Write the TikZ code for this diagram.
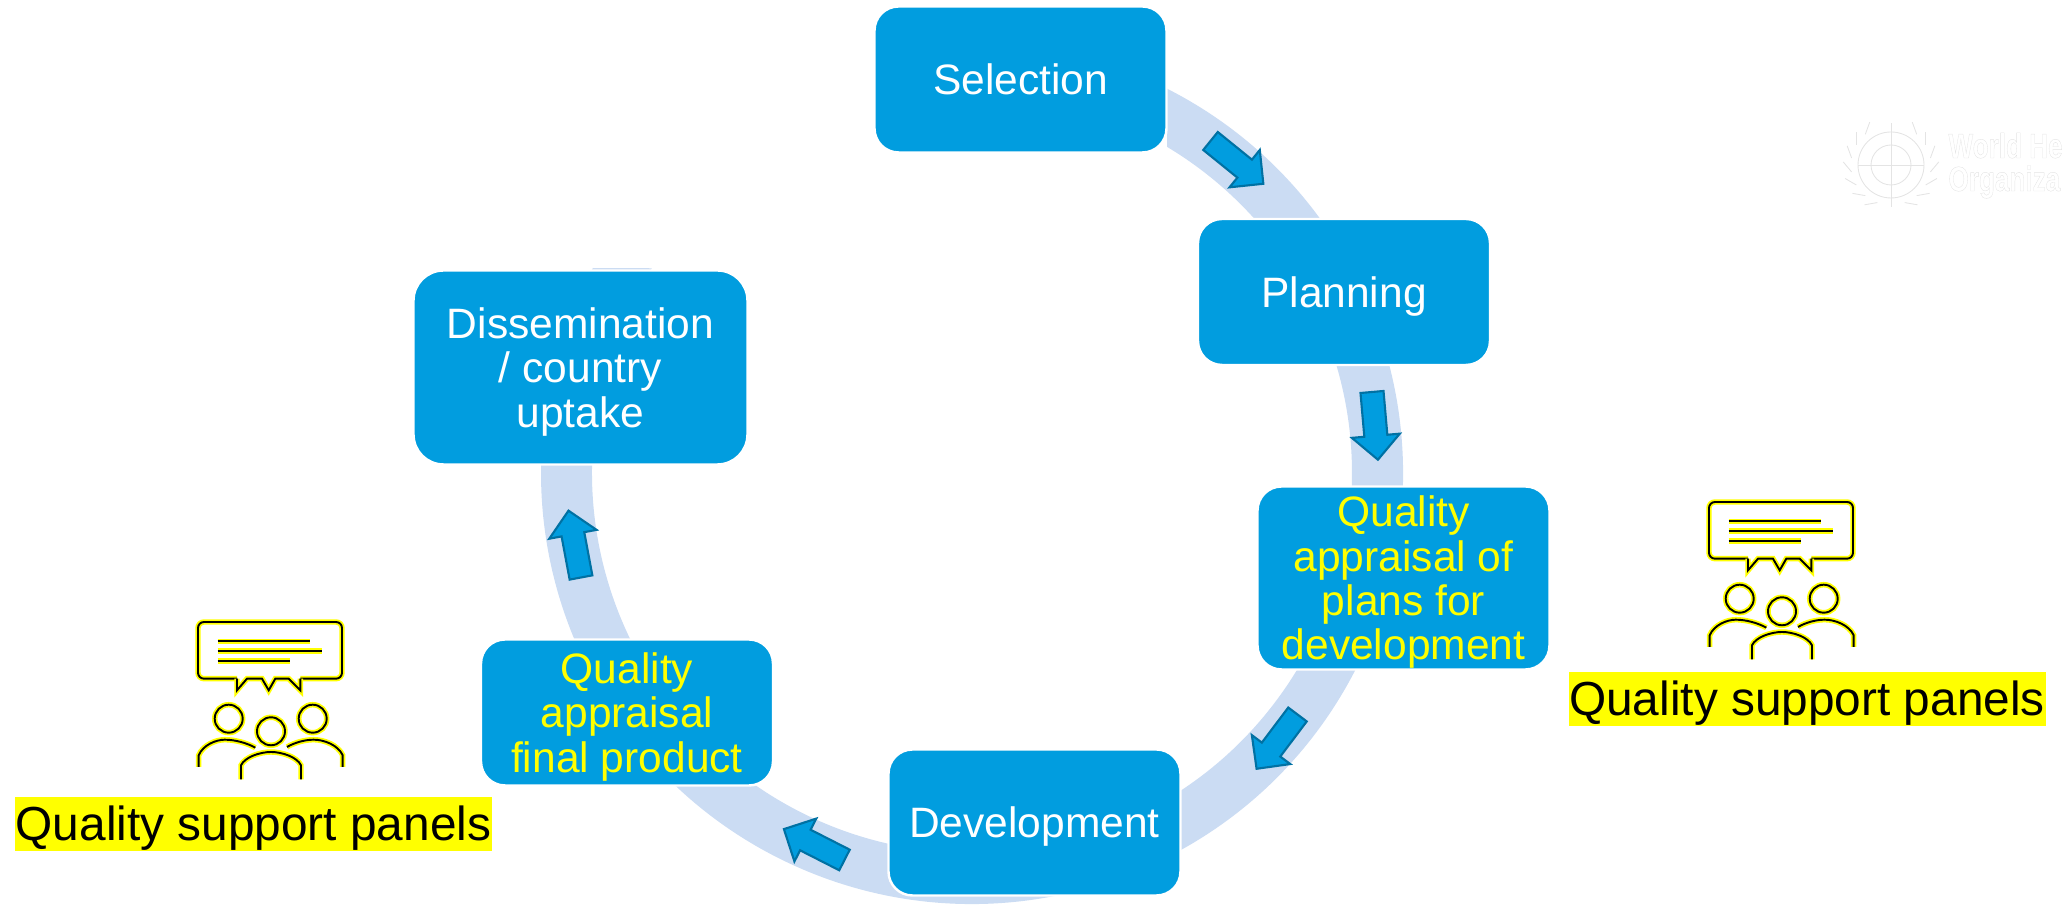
\documentclass[tikz,border=0pt]{standalone}
\usepackage{fontspec}
\setmainfont{Liberation Sans}
\usepackage{tikz}
\usetikzlibrary{shapes.arrows}
\definecolor{boxblue}{HTML}{019DDF}
\definecolor{ringblue}{HTML}{CBDCF3}
\definecolor{arrowline}{HTML}{0071A3}
\definecolor{logogrey}{HTML}{E4E4E4}
\definecolor{panelyellow}{HTML}{FFFF00}
\newcommand{\outlined}[1]{\special{pdf:code 1 Tr 0.12 w}#1\special{pdf:code 0 Tr}}
\tikzset{
  stagebox/.style={draw=white, line width=0.7pt, fill=boxblue, text=white, align=center,
    minimum width=2.92cm, minimum height=1.46cm, rounded corners=0.24cm, inner sep=0pt,
    text depth=0pt, font=\fontsize{12.1}{12.6}\selectfont},
  appraisal/.style={stagebox, text=panelyellow},
  flowarrow/.style={single arrow, draw=arrowline, line width=0.6pt, fill=boxblue, anchor=tail,
    minimum height=0.68cm, minimum width=0.48cm, inner xsep=0pt, inner ysep=0.105cm,
    single arrow head extend=0.125cm, single arrow tip angle=90, outer sep=0pt},
  panellabel/.style={fill=panelyellow, text=black, inner sep=0pt, minimum width=4.77cm,
    text height=0.44cm, text depth=0.10cm, font=\fontsize{13.6}{14}\selectfont},
  logotext/.style={anchor=base west, inner sep=0pt, text=logogrey, xscale=0.75, transform shape,
    font=\fontsize{9.9}{10}\selectfont\bfseries},
  logoline/.style={logogrey, line width=0.25pt},
  iconline/.style={draw=panelyellow, double=black, double distance=0.55pt, line width=0.5pt},
  panelicon/.pic={
    \draw [iconline, rounded corners=0.06cm] (0.39, -0.567) -- (0, -0.567) -- (0, 0)
      -- (1.44, 0) -- (1.44, -0.567) -- (1.023, -0.567);
    \draw [iconline] (1.023, -0.567) -- (1.023, -0.683) -- (0.907, -0.567) -- (0.773, -0.567)
      -- (0.707, -0.683) -- (0.64, -0.567) -- (0.49, -0.567) -- (0.39, -0.683) -- (0.39, -0.567);
    \draw [iconline] (0.197, -0.193) -- (1.123, -0.193);
    \draw [iconline] (0.197, -0.29) -- (1.243, -0.29);
    \draw [iconline] (0.197, -0.39) -- (0.923, -0.39);
    \draw [iconline] (0.307, -0.967) circle [radius=0.14];
    \draw [iconline] (0.73, -1.093) circle [radius=0.14];
    \draw [iconline] (1.147, -0.967) circle [radius=0.14];
    \draw [iconline] (0.007, -1.45) -- (0.007, -1.333) .. controls (0.05, -1.23) and (0.18, -1.177) .. (0.267, -1.177)
      .. controls (0.37, -1.177) and (0.49, -1.21) .. (0.573, -1.257);
    \draw [iconline] (1.447, -1.45) -- (1.447, -1.333) .. controls (1.4, -1.23) and (1.26, -1.177) .. (1.157, -1.177)
      .. controls (1.06, -1.177) and (0.96, -1.21) .. (0.89, -1.25);
    \draw [iconline] (0.43, -1.573) -- (0.43, -1.433) .. controls (0.47, -1.35) and (0.62, -1.3) .. (0.73, -1.3)
      .. controls (0.84, -1.3) and (0.99, -1.35) .. (1.03, -1.433) -- (1.03, -1.573);
  }
}
\begin{document}
\begin{tikzpicture}
%\draw[help lines] (0, 0) grid (21, 10);
\useasboundingbox (0, 0) rectangle (20.63, 9.07);
% ring behind the boxes
\begin{scope}[shift={(9.72, 4.34)}]
\fill [ringblue] (63.1:4.31) arc [start angle=63.1, end angle=-208.4, radius=4.31]
  -- (-212.6:3.80) arc [start angle=-212.6, end angle=59.1, radius=3.80] -- cycle;
\end{scope}
% stages
\node [stagebox] (selection) at (10.205, 8.275) {Selection};
\node [stagebox] (planning) at (13.44, 6.15) {Planning};
\node [appraisal, minimum height=1.83cm] (plans) at (14.035, 3.29) {Quality\\appraisal of\\plans for\\development};
\node [stagebox] (development) at (10.345, 0.845) {Development};
\node [appraisal] (final) at (6.27, 1.945) {Quality\\appraisal\\final product};
\node [stagebox, minimum width=3.34cm, minimum height=1.94cm, rounded corners=0.3cm] (dissemination) at (5.805, 5.395) {Dissemination\\/ country\\uptake};
% arrows
\node [flowarrow, rotate=-39] (arrowa) at (12.105, 7.66) {};
\node [flowarrow, rotate=-85] (arrowb) at (13.72, 5.15) {};
\node [flowarrow, rotate=233] (arrowc) at (12.975, 1.925) {};
\node [flowarrow, rotate=153] (arrowd) at (8.445, 0.47) {};
\node [flowarrow, rotate=100.6] (arrowe) at (5.81, 3.295) {};
% panels
\pic at (17.09, 4.05) {panelicon};
\node [panellabel] (panelright) at (18.07, 2.08) {Quality support panels};
\pic at (1.98, 2.85) {panelicon};
\node [panellabel] (panelleft) at (2.535, 0.83) {Quality support panels};
% faint logo
\draw [logoline] (18.91, 7.42) circle [radius=0.33];
\draw [logoline] (18.91, 7.42) circle [radius=0.2];
\draw [logoline] (18.91, 7.0) -- (18.91, 7.84);
\draw [logoline] (18.58, 7.42) -- (19.24, 7.42);
\foreach \a in {-70, -50, ..., 50} {
  \draw [logoline] (18.91, 7.42) ++(\a:0.4) -- ++(\a+60:0.13);
  \draw [logoline] (18.91, 7.42) ++(180-\a:0.4) -- ++(120-\a:0.13);
}
\node [logotext] (logoa) at (19.48, 7.49) {\outlined{World He}};
\node [logotext] (logob) at (19.48, 7.16) {\outlined{Organiza}};
\end{tikzpicture}
\end{document}
